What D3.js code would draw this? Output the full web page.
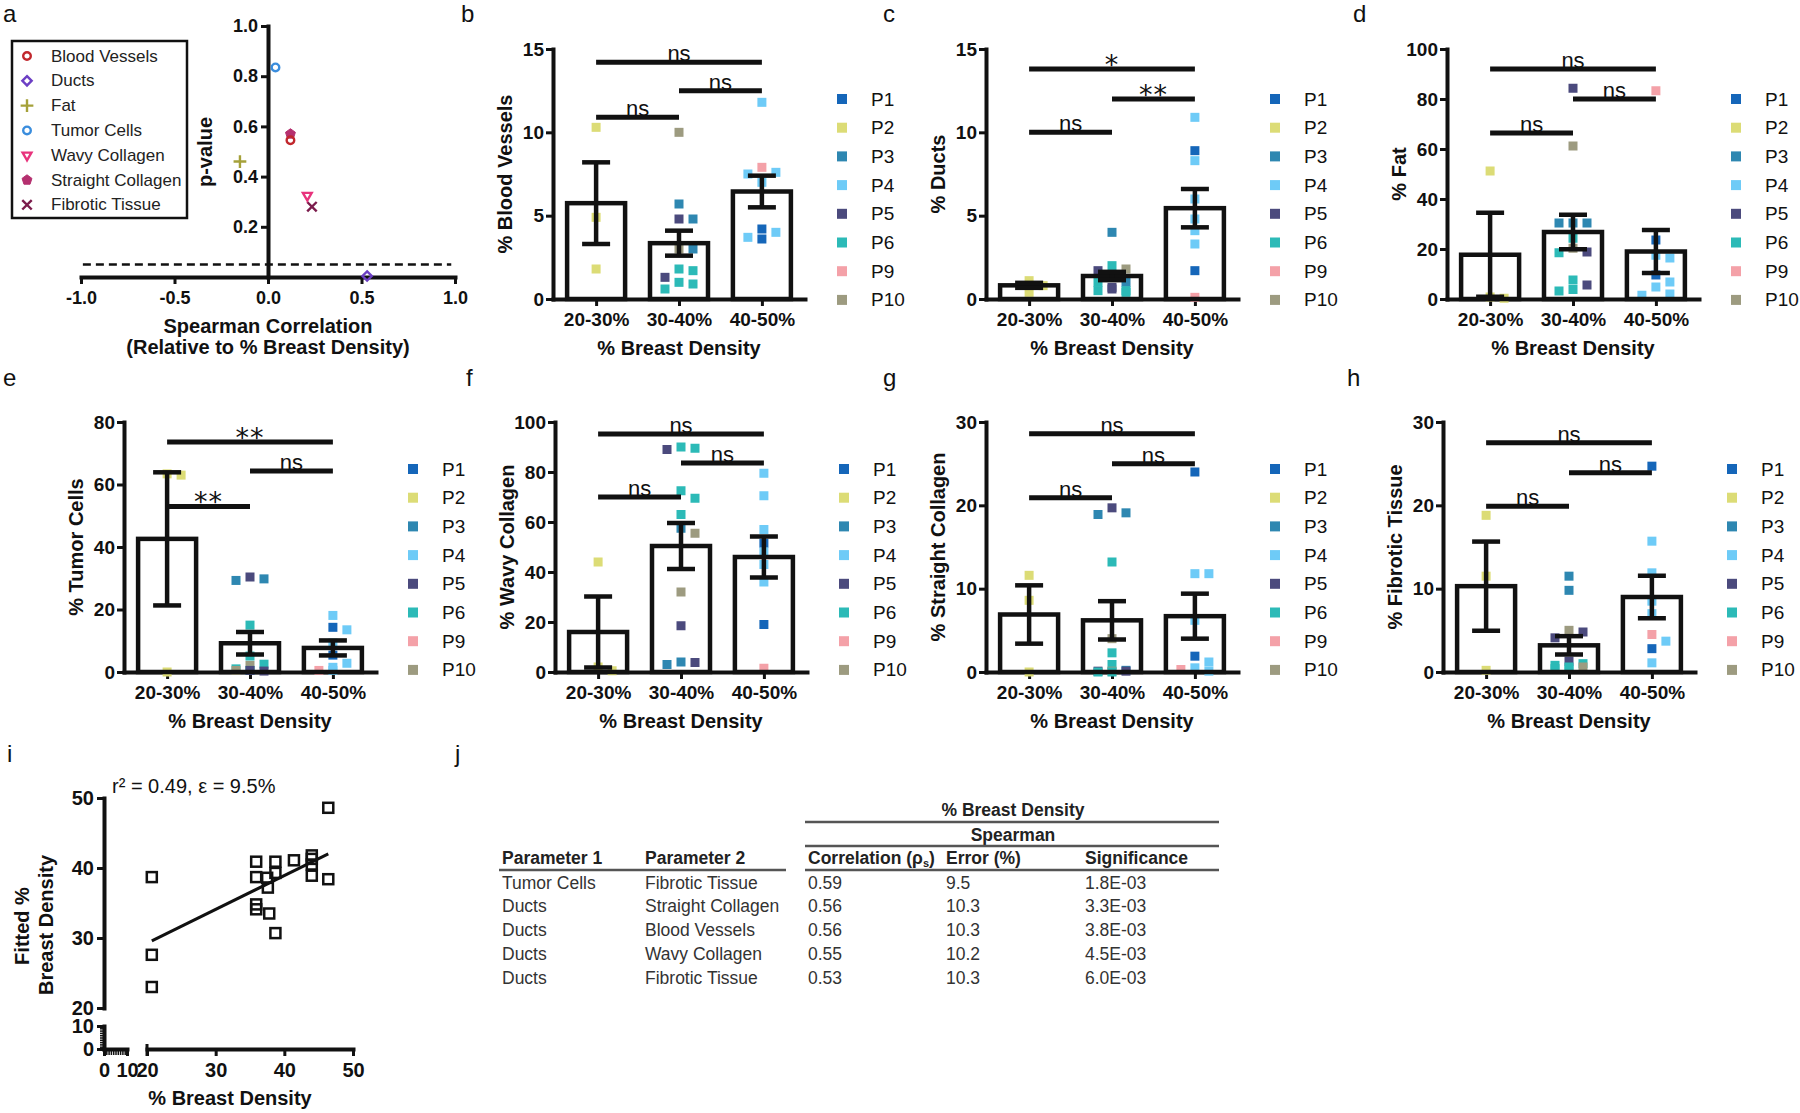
<!DOCTYPE html>
<html><head><meta charset="utf-8">
<script src="https://cdn.jsdelivr.net/npm/d3@7"></script>
<style>
html,body{margin:0;padding:0;background:#fff;}
svg{display:block;}
</style></head><body>
<svg id="fig" width="1800" height="1113"></svg>
<script>
// ---------------- DATA ----------------
const categories = ["20-30%","30-40%","40-50%"];
const patients = ["P1","P2","P3","P4","P5","P6","P9","P10"];
const patientColors = ["#1566b9","#dcdc76","#2e87b1","#6ecbf7","#4b4a7d","#2cbab7","#f4a1a8","#9d9b80"];

// Panel a
const paramNames = ["Blood Vessels","Ducts","Fat","Tumor Cells","Wavy Collagen","Straight Collagen","Fibrotic Tissue"];
const spearmanR = [0.12, 0.53, -0.15, 0.04, 0.21, 0.12, 0.235];
const pValues = [0.545, 0.004, 0.46, 0.835, 0.325, 0.57, 0.28];
const paramColors = ["#c1272d","#6c3fc4","#a5a13a","#3a8ddd","#e8337c","#b5306f","#7b1c4c"];
const aXTicks = [-1.0,-0.5,0.0,0.5,1.0];
const aYTicks = [0.2,0.4,0.6,0.8,1.0];
const pThreshold = 0.05;

// Panel b: Blood Vessels
const bloodTicks = [0,5,10,15];
const bloodMean = [5.75, 3.35, 6.45];
const bloodSem = [2.45, 0.75, 0.95];
const bloodPts = [
  [["P2",10.3],["P2",4.9],["P2",1.8]],
  [["P10",10.0],["P3",5.7],["P5",4.8],["P3",4.8],["P10",3.0],["P3",3.0],["P6",1.8],["P6",1.7],["P5",1.3],["P6",1.0],["P6",0.9],["P6",0.6]],
  [["P4",11.8],["P9",7.9],["P4",7.6],["P4",7.5],["P4",7.0],["P1",4.2],["P4",4.0],["P4",3.7],["P1",3.6]]
];
const bloodSig = [[0,2,14.2,"ns"],[1,2,12.5,"ns"],[0,1,10.9,"ns"]];

// Panel c: Ducts
const ductsTicks = [0,5,10,15];
const ductsMean = [0.82, 1.38, 5.45];
const ductsSem = [0.15, 0.25, 1.15];
const ductsPts = [
  [["P2",1.1],["P2",0.8],["P2",0.4]],
  [["P3",4.0],["P6",2.0],["P10",1.8],["P5",1.7],["P3",1.4],["P3",1.0],["P6",1.0],["P5",0.7],["P5",0.6],["P6",0.5],["P6",0.5],["P6",0.4]],
  [["P4",10.9],["P1",8.9],["P4",8.3],["P4",6.0],["P4",4.8],["P4",4.1],["P4",3.3],["P1",1.7],["P9",0.1]]
];
const ductsSig = [[0,2,13.8,"*"],[1,2,12.0,"**"],[0,1,10.0,"ns"]];

// Panel d: Fat
const fatTicks = [0,20,40,60,80,100];
const fatMean = [17.7, 26.8, 19.0];
const fatSem = [16.8, 6.9, 8.6];
const fatPts = [
  [["P2",51.2],["P2",0.8],["P2",0.3]],
  [["P5",84.3],["P10",61.2],["P3",30.4],["P3",30.4],["P3",30.4],["P6",24.3],["P10",20.3],["P5",18.8],["P6",18.5],["P6",7.6],["P5",5.6],["P6",3.8],["P6",3.2]],
  [["P9",83.3],["P1",23.6],["P4",17.5],["P4",16.4],["P1",9.6],["P4",6.8],["P4",4.8],["P4",2.0],["P4",1.5]]
];
const fatSig = [[0,2,92,"ns"],[1,2,80,"ns"],[0,1,66.4,"ns"]];

// Panel e: Tumor Cells
const tumorTicks = [0,20,40,60,80];
const tumorMean = [42.6, 9.2, 7.7];
const tumorSem = [21.3, 3.6, 2.4];
const tumorPts = [
  [["P2",63.4],["P2",63.0],["P2",0]],
  [["P5",30.4],["P3",29.8],["P3",29.3],["P6",15.0],["P6",5.1],["P6",2.5],["P10",2.1],["P6",1.0],["P6",0.5],["P5",0.3],["P10",0.5],["P5",0.5]],
  [["P4",18.1],["P1",14.3],["P4",13.5],["P4",9.3],["P1",5.4],["P4",2.8],["P4",1.5],["P9",0.5],["P4",0.5]]
];
const tumorSig = [[0,2,73.6,"**"],[1,2,64.3,"ns"],[0,1,53,"**"]];

// Panel f: Wavy Collagen
const wavyTicks = [0,20,40,60,80,100];
const wavyMean = [16.0, 50.4, 46.0];
const wavySem = [14.2, 9.2, 8.2];
const wavyPts = [
  [["P2",44],["P2",2],["P2",0.5]],
  [["P6",90],["P6",89.5],["P5",89],["P6",72.5],["P6",69.5],["P6",63],["P3",57.5],["P10",55.5],["P10",32],["P5",18.5],["P3",4],["P5",3.8],["P3",3]],
  [["P4",79.5],["P4",70.5],["P4",57],["P1",51.5],["P4",48],["P4",43],["P4",36],["P1",19],["P9",1.5]]
];
const wavySig = [[0,2,95.2,"ns"],[1,2,83.6,"ns"],[0,1,70,"ns"]];

// Panel g: Straight Collagen
const straightTicks = [0,10,20,30];
const straightMean = [6.9, 6.2, 6.7];
const straightSem = [3.5, 2.3, 2.7];
const straightPts = [
  [["P2",11.6],["P2",8.6],["P2",0]],
  [["P5",19.7],["P3",19.1],["P3",18.9],["P6",13.2],["P10",4.0],["P6",2.3],["P6",0.9],["P3",0.2],["P5",0.1],["P10",0.1],["P5",0.1],["P6",0],["P6",0]],
  [["P1",24],["P4",11.8],["P4",11.8],["P4",6.2],["P1",1.9],["P4",1.2],["P4",0.5],["P9",0.3],["P4",0.1]]
];
const straightSig = [[0,2,28.6,"ns"],[1,2,25,"ns"],[0,1,20.9,"ns"]];

// Panel h: Fibrotic Tissue
const fibroticTicks = [0,10,20,30];
const fibroticMean = [10.3, 3.2, 9.0];
const fibroticSem = [5.35, 1.1, 2.55];
const fibroticPts = [
  [["P2",18.8],["P2",11.5],["P2",0.2]],
  [["P3",11.5],["P3",9.8],["P10",5.0],["P5",4.8],["P5",4.1],["P5",1.3],["P6",1.0],["P6",0.8],["P6",0.6],["P10",0.6],["P6",0.4],["P6",0.3]],
  [["P1",24.7],["P4",15.7],["P4",11.9],["P4",8.5],["P4",7.0],["P9",4.5],["P4",3.7],["P1",2.8],["P4",1.1]]
];
const fibroticSig = [[0,2,27.5,"ns"],[1,2,23.9,"ns"],[0,1,19.9,"ns"]];

// Panel i: fitted vs measured density
const measuredDensity = [20.7,20.7,20.7,35.9,35.9,35.9,35.9,37.5,37.6,37.8,38.7,38.7,38.7,41.4,44.0,44.0,44.0,44.0,46.4,46.4];
const fittedDensity   = [38.7,27.6,23.0,40.9,38.7,34.8,34.1,38.6,37.2,33.5,40.9,39.3,30.7,41.1,41.8,41.3,40.5,38.9,48.6,38.4];
const fitSlope = 0.483, fitIntercept = 19.6, fitRange = [20.7, 46.4];
const iMainTicks = [20,30,40,50];
const iLowTicks = [0,10];
const iAnnotation = "r\u00B2 = 0.49, \u03B5 = 9.5%";

// Panel j: table
const tableParam1 = ["Tumor Cells","Ducts","Ducts","Ducts","Ducts"];
const tableParam2 = ["Fibrotic Tissue","Straight Collagen","Blood Vessels","Wavy Collagen","Fibrotic Tissue"];
const tableCorr = ["0.59","0.56","0.56","0.55","0.53"];
const tableError = ["9.5","10.3","10.3","10.2","10.3"];
const tableSig = ["1.8E-03","3.3E-03","3.8E-03","4.5E-03","6.0E-03"];

// ---------------- DRAWING ----------------
const FONT = '"Liberation Sans", Arial, sans-serif';
const INK = "#111";
const svg = d3.select("#fig");
svg.append("rect").attr("width",1800).attr("height",1113).attr("fill","#fff");

function styleAxis(g, fs){
  g.select(".domain").attr("stroke",INK).attr("stroke-width",4).attr("stroke-linecap","square");
  g.selectAll(".tick line").attr("stroke",INK).attr("stroke-width",3);
  g.selectAll(".tick text").attr("font-family",FONT).attr("font-weight","bold")
    .attr("font-size",fs).attr("fill",INK);
}
function letter(t,x,y){
  svg.append("text").attr("x",x).attr("y",y).attr("font-family",FONT).attr("font-size",24).attr("fill",INK).text(t);
}

function dodge(ys, size, step, maxOff){
  const placed=[];
  return ys.map(py=>{
    const cands=[0];
    for(let k=1;k*step<=maxOff;k++){cands.push(k*step,-k*step);}
    let best=0,bestN=Infinity;
    for(const c of cands){
      const n=placed.filter(p=>Math.abs(p.dx-c)<size && Math.abs(p.py-py)<size).length;
      if(n===0){best=c;bestN=0;break;}
      if(n<bestN){bestN=n;best=c;}
    }
    placed.push({dx:best,py}); return best;
  });
}

function barPanel(p){
  const g = svg.append("g");
  const x = d3.scalePoint().domain(categories).range([p.axisX, p.axisX+252]).padding(0.52);
  const y = d3.scaleLinear().domain([0,p.yMax]).range([p.bottom,p.top]);
  const bw = 58;
  const gy = g.append("g").attr("transform",`translate(${p.axisX},0)`)
    .call(d3.axisLeft(y).tickValues(p.ticks).tickSize(7).tickPadding(2).tickSizeOuter(0));
  styleAxis(gy,19);
  const gx = g.append("g").attr("transform",`translate(0,${p.bottom})`)
    .call(d3.axisBottom(x).tickSize(7).tickPadding(7).tickSizeOuter(0));
  styleAxis(gx,19);
  g.selectAll(".barfill").data(categories).enter().append("rect")
    .attr("x",c=>x(c)-bw/2).attr("y",(c,i)=>y(p.mean[i]))
    .attr("width",bw).attr("height",(c,i)=>y(0)-y(p.mean[i])).attr("fill","#fff");
  p.pts.forEach((grp,i)=>{
    const ys = grp.map(d=>y(d[1]));
    const offs = dodge(ys, 8.5, 7, 22);
    g.selectAll(null).data(grp).enter().append("rect")
      .attr("x",(d,k)=>x(categories[i])+offs[k]-4.5)
      .attr("y",d=>y(d[1])-4.5).attr("width",9).attr("height",9)
      .attr("fill",d=>patientColors[patients.indexOf(d[0])]);
  });
  g.selectAll(".barline").data(categories).enter().append("rect")
    .attr("x",c=>x(c)-bw/2).attr("y",(c,i)=>y(p.mean[i]))
    .attr("width",bw).attr("height",(c,i)=>y(0)-y(p.mean[i]))
    .attr("fill","none").attr("stroke",INK).attr("stroke-width",4.5);
  categories.forEach((c,i)=>{
    const lo=y(Math.max(0,p.mean[i]-p.sem[i])), hi=y(p.mean[i]+p.sem[i]), cx=x(c);
    g.append("line").attr("x1",cx).attr("x2",cx).attr("y1",lo).attr("y2",hi).attr("stroke",INK).attr("stroke-width",4.5);
    [lo,hi].forEach(yy=>g.append("line").attr("x1",cx-14).attr("x2",cx+14).attr("y1",yy).attr("y2",yy).attr("stroke",INK).attr("stroke-width",4.5));
  });
  p.sig.forEach(s=>{
    const x1=x(categories[s[0]]), x2=x(categories[s[1]]), yy=y(s[2]);
    const star = s[3].startsWith("*");
    g.append("text").attr("x",(x1+x2)/2).attr("y",star?yy+5:yy-1).attr("text-anchor","middle")
      .attr("font-family",star?'"DejaVu Sans", sans-serif':FONT).attr("font-size",star?27:22)
      .attr("letter-spacing",star?1:0).attr("fill",INK).text(s[3]);
    g.append("line").attr("x1",x1).attr("x2",x2).attr("y1",yy).attr("y2",yy).attr("stroke",INK).attr("stroke-width",5);
  });
  g.append("text").attr("transform",`translate(${p.axisX-48},${(p.top+p.bottom)/2}) rotate(-90)`)
    .attr("text-anchor","middle").attr("dominant-baseline","central")
    .attr("font-family",FONT).attr("font-weight","bold").attr("font-size",20).attr("fill",INK).text(p.title);
  g.append("text").attr("x",x(categories[1])).attr("y",p.bottom+56).attr("text-anchor","middle")
    .attr("font-family",FONT).attr("font-weight","bold").attr("font-size",20).attr("fill",INK).text("% Breast Density");
  patients.forEach((pt,k)=>{
    const ly = p.top + p.legDy + k*28.7;
    g.append("rect").attr("x",p.axisX+289-5).attr("y",ly-5).attr("width",10).attr("height",10).attr("fill",patientColors[k]);
    g.append("text").attr("x",p.axisX+318).attr("y",ly).attr("dominant-baseline","central")
      .attr("font-family",FONT).attr("font-size",19).attr("fill",INK).text(pt);
  });
  letter(p.letter,p.lx,p.ly);
}

const panelDefs = [
  {letter:"b",lx:461,ly:22,axisX:553,top:49,bottom:299,yMax:15,ticks:bloodTicks,title:"% Blood Vessels",mean:bloodMean,sem:bloodSem,pts:bloodPts,sig:bloodSig,legDy:50},
  {letter:"c",lx:883,ly:22,axisX:986,top:49,bottom:299,yMax:15,ticks:ductsTicks,title:"% Ducts",mean:ductsMean,sem:ductsSem,pts:ductsPts,sig:ductsSig,legDy:50},
  {letter:"d",lx:1353,ly:22,axisX:1447,top:49,bottom:299,yMax:100,ticks:fatTicks,title:"% Fat",mean:fatMean,sem:fatSem,pts:fatPts,sig:fatSig,legDy:50},
  {letter:"e",lx:3,ly:386,axisX:124,top:422,bottom:672,yMax:80,ticks:tumorTicks,title:"% Tumor Cells",mean:tumorMean,sem:tumorSem,pts:tumorPts,sig:tumorSig,legDy:47},
  {letter:"f",lx:466,ly:386,axisX:555,top:422,bottom:672,yMax:100,ticks:wavyTicks,title:"% Wavy Collagen",mean:wavyMean,sem:wavySem,pts:wavyPts,sig:wavySig,legDy:47},
  {letter:"g",lx:883,ly:386,axisX:986,top:422,bottom:672,yMax:30,ticks:straightTicks,title:"% Straight Collagen",mean:straightMean,sem:straightSem,pts:straightPts,sig:straightSig,legDy:47},
  {letter:"h",lx:1347,ly:386,axisX:1443,top:422,bottom:672,yMax:30,ticks:fibroticTicks,title:"% Fibrotic Tissue",mean:fibroticMean,sem:fibroticSem,pts:fibroticPts,sig:fibroticSig,legDy:47}
];
panelDefs.forEach(barPanel);

// ---------- Panel a ----------
(function(){
  const g = svg.append("g");
  const x = d3.scaleLinear().domain([-1,1]).range([81,455]);
  const y = d3.scaleLinear().domain([0,1]).range([277,26]);
  const fmt = d=>d.toFixed(1);
  const gy = g.append("g").attr("transform",`translate(${x(0)},0)`)
    .call(d3.axisLeft(y).tickValues(aYTicks).tickFormat(fmt).tickSize(7).tickPadding(3).tickSizeOuter(0));
  styleAxis(gy,18);
  const gx = g.append("g").attr("transform",`translate(0,${y(0)})`)
    .call(d3.axisBottom(x).tickValues(aXTicks).tickFormat(fmt).tickSize(7).tickPadding(7).tickSizeOuter(0));
  styleAxis(gx,18);
  g.append("line").attr("x1",x(-0.99)).attr("x2",x(0.98)).attr("y1",y(pThreshold)).attr("y2",y(pThreshold))
    .attr("stroke",INK).attr("stroke-width",2.5).attr("stroke-dasharray","8,5");

  const pentagon = {draw(ctx,size){const r=Math.sqrt(size/2.4);
    for(let i=0;i<5;i++){const a=-Math.PI/2+i*2*Math.PI/5; const px=r*Math.cos(a), py=r*Math.sin(a); i?ctx.lineTo(px,py):ctx.moveTo(px,py);} ctx.closePath();}};
  const shapes = [
    {type:d3.symbolCircle,size:45,fill:false,rot:0},
    {type:d3.symbolDiamond2,size:55,fill:false,rot:0},
    {type:d3.symbolPlus,size:55,fill:false,rot:0},
    {type:d3.symbolCircle,size:45,fill:false,rot:0},
    {type:d3.symbolTriangle2,size:55,fill:false,rot:180},
    {type:pentagon,size:65,fill:true,rot:0},
    {type:d3.symbolTimes,size:60,fill:false,rot:0}
  ];
  function mark(sel,i,cx,cy){
    const s=shapes[i];
    sel.append("path").attr("d",d3.symbol().type(s.type).size(s.size)())
      .attr("transform",`translate(${cx},${cy}) rotate(${s.rot})`)
      .attr("fill",s.fill?paramColors[i]:"none").attr("stroke",paramColors[i])
      .attr("stroke-width",s.fill?1:2.4);
  }
  const order=[6,4,5,0,3,2,1];
  order.forEach(i=>mark(g,i,x(spearmanR[i]),y(pValues[i])));
  g.append("rect").attr("x",12).attr("y",41).attr("width",175).attr("height",177)
    .attr("fill","#fff").attr("stroke",INK).attr("stroke-width",2.5);
  paramNames.forEach((n,i)=>{
    const ly=56+i*24.8;
    mark(g,i,27,ly);
    g.append("text").attr("x",51).attr("y",ly).attr("dominant-baseline","central")
      .attr("font-family",FONT).attr("font-size",17).attr("fill","#222").text(n);
  });
  g.append("text").attr("transform",`translate(205,152) rotate(-90)`).attr("text-anchor","middle")
    .attr("dominant-baseline","central").attr("font-family",FONT).attr("font-weight","bold")
    .attr("font-size",20).attr("fill",INK).text("p-value");
  g.append("text").attr("x",268).attr("y",333).attr("text-anchor","middle").attr("font-family",FONT)
    .attr("font-weight","bold").attr("font-size",20).attr("fill",INK).text("Spearman Correlation");
  g.append("text").attr("x",268).attr("y",354).attr("text-anchor","middle").attr("font-family",FONT)
    .attr("font-weight","bold").attr("font-size",20).attr("fill",INK).text("(Relative to % Breast Density)");
  letter("a",3,22);
})();

// ---------- Panel i ----------
(function(){
  const g = svg.append("g");
  const xM = d3.scaleLinear().domain([20,50]).range([147,353]);
  const xL = d3.scaleLinear().domain([0,10]).range([104,127]);
  const yM = d3.scaleLinear().domain([20,50]).range([1008,798]);
  const yL = d3.scaleLinear().domain([0,10]).range([1049,1026]);
  const axisY0 = 1049, axisX0 = 104;
  const g1 = g.append("g").attr("transform",`translate(${axisX0},0)`)
    .call(d3.axisLeft(yM).tickValues(iMainTicks).tickSize(7).tickPadding(3).tickSizeOuter(0));
  styleAxis(g1,20);
  const g2 = g.append("g").attr("transform",`translate(${axisX0},0)`)
    .call(d3.axisLeft(yL).tickValues(iLowTicks).tickSize(7).tickPadding(3).tickSizeOuter(0));
  styleAxis(g2,20);
  const g2m = g.append("g").attr("transform",`translate(${axisX0},0)`)
    .call(d3.axisLeft(yL).tickValues(d3.range(1,10)).tickFormat("").tickSize(4).tickSizeOuter(0));
  styleAxis(g2m,20); g2m.selectAll(".tick line").attr("stroke-width",1.5); g2m.select(".domain").remove();
  const g3 = g.append("g").attr("transform",`translate(0,${axisY0})`)
    .call(d3.axisBottom(xM).tickValues(iMainTicks).tickSize(7).tickPadding(7).tickSizeOuter(0));
  styleAxis(g3,20);
  const g4 = g.append("g").attr("transform",`translate(0,${axisY0})`)
    .call(d3.axisBottom(xL).tickValues(iLowTicks).tickSize(7).tickPadding(7).tickSizeOuter(0));
  styleAxis(g4,20);
  const g4m = g.append("g").attr("transform",`translate(0,${axisY0})`)
    .call(d3.axisBottom(xL).tickValues(d3.range(1,10)).tickFormat("").tickSize(6).tickSizeOuter(0));
  styleAxis(g4m,20); g4m.selectAll(".tick line").attr("stroke-width",1.5); g4m.select(".domain").remove();
  g.append("line").attr("x1",xM(20)).attr("x2",xM(20)).attr("y1",axisY0-5).attr("y2",axisY0+7).attr("stroke",INK).attr("stroke-width",3);
  g.append("line").attr("x1",xM(fitRange[0])).attr("x2",xM(fitRange[1]))
    .attr("y1",yM(fitSlope*fitRange[0]+fitIntercept)).attr("y2",yM(fitSlope*fitRange[1]+fitIntercept))
    .attr("stroke",INK).attr("stroke-width",3);
  g.selectAll(null).data(measuredDensity).enter().append("rect")
    .attr("x",(d)=>xM(d)-5).attr("y",(d,i)=>yM(fittedDensity[i])-5).attr("width",10).attr("height",10)
    .attr("fill","none").attr("stroke",INK).attr("stroke-width",2.5);
  g.append("text").attr("x",112).attr("y",793).attr("font-family",FONT).attr("font-size",20).attr("fill",INK).text(iAnnotation);
  g.append("text").attr("transform","translate(22,926) rotate(-90)").attr("text-anchor","middle")
    .attr("dominant-baseline","central").attr("font-family",FONT).attr("font-weight","bold").attr("font-size",20).attr("fill",INK).text("Fitted %");
  g.append("text").attr("transform","translate(46,925) rotate(-90)").attr("text-anchor","middle")
    .attr("dominant-baseline","central").attr("font-family",FONT).attr("font-weight","bold").attr("font-size",20).attr("fill",INK).text("Breast Density");
  g.append("text").attr("x",230).attr("y",1105).attr("text-anchor","middle").attr("font-family",FONT)
    .attr("font-weight","bold").attr("font-size",20).attr("fill",INK).text("% Breast Density");
  letter("i",7,762);
})();

// ---------- Panel j (table) ----------
(function(){
  const g = svg.append("g");
  const FS = 17.5;
  function tt(x,y,s,bold,anchor){
    return g.append("text").attr("x",x).attr("y",y)
      .attr("text-anchor",anchor||"start").attr("font-family",FONT).attr("font-size",FS)
      .attr("font-weight",bold?"bold":"normal").attr("fill",bold?"#222":"#333").text(s);
  }
  const colX = [502,645,808,946,1085];
  tt(1013,816,"% Breast Density",true,"middle");
  tt(1013,841,"Spearman",true,"middle");
  tt(colX[0],864,"Parameter 1",true); tt(colX[1],864,"Parameter 2",true);
  const c = tt(colX[2],864,"Correlation (\u03C1",true);
  c.append("tspan").attr("font-size",11).attr("dy",3).text("s");
  c.append("tspan").attr("dy",-3).text(")");
  tt(colX[3],864,"Error (%)",true); tt(colX[4],864,"Significance",true);
  const rowY = [889,912,936,960,984];
  const cols = [tableParam1,tableParam2,tableCorr,tableError,tableSig];
  cols.forEach((col,ci)=>col.forEach((v,ri)=>tt(colX[ci],rowY[ri],v,false)));
  const ln=(x1,x2,y)=>g.append("line").attr("x1",x1).attr("x2",x2).attr("y1",y).attr("y2",y).attr("stroke","#555").attr("stroke-width",2.5);
  ln(805,1219,822); ln(805,1219,846); ln(499,786,870); ln(805,1219,870);
  letter("j",455,762);
})();
</script>
</body></html>
